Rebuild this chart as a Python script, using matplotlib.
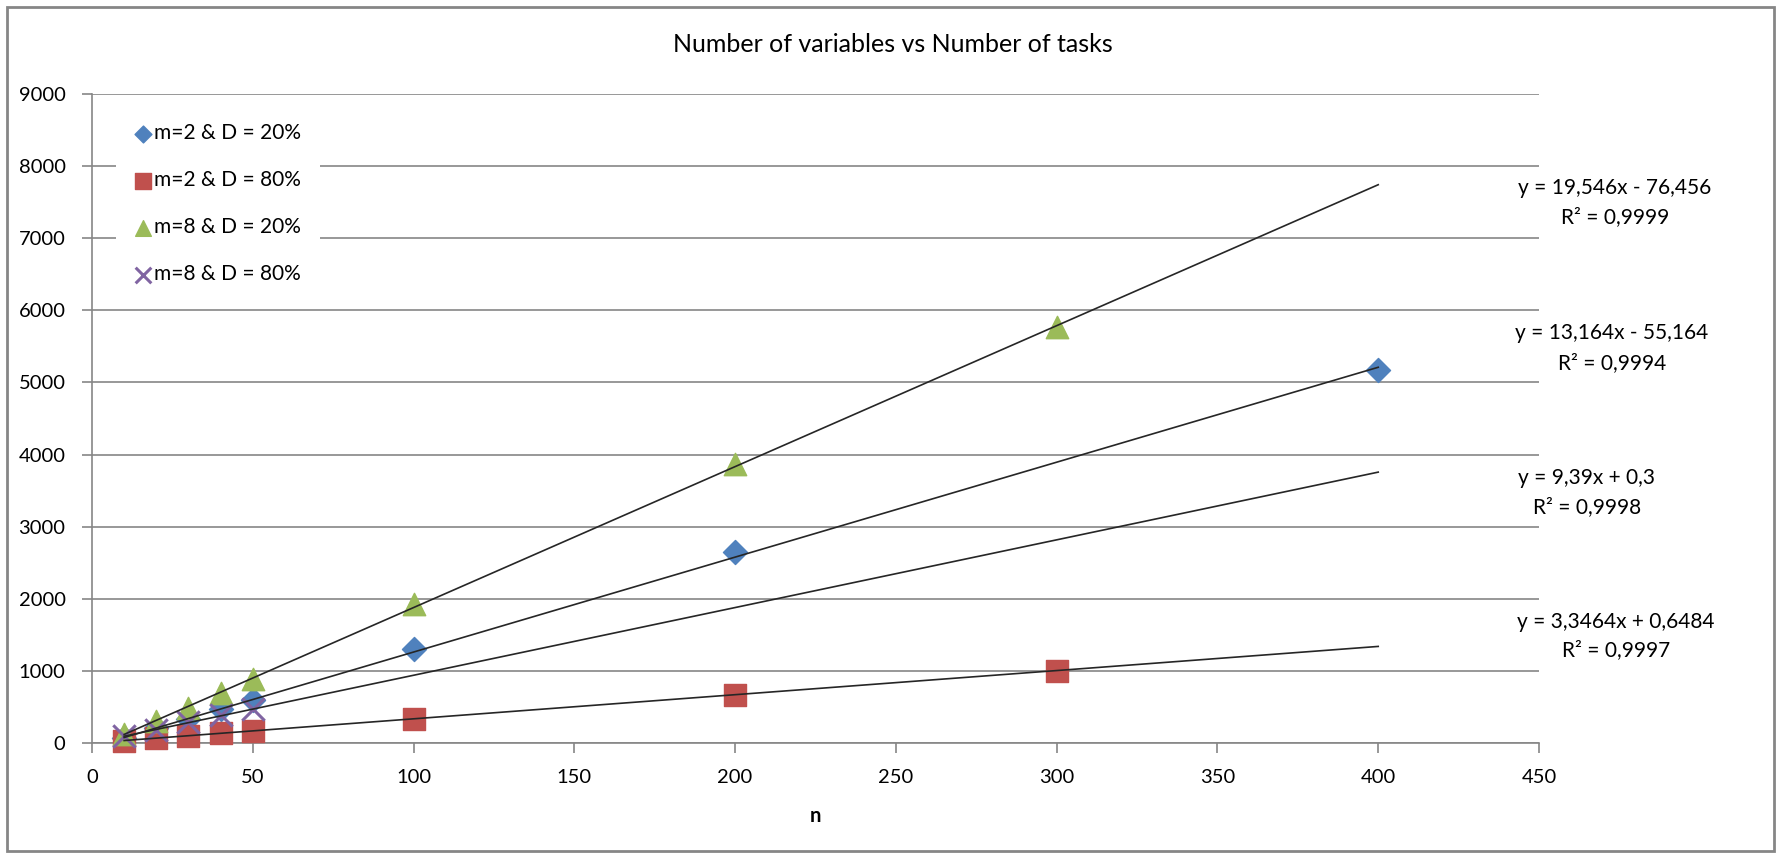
import matplotlib
matplotlib.use("Agg")
import matplotlib.pyplot as plt
import numpy as np
from matplotlib.patches import Rectangle

plt.rcParams['font.family'] = ['Lato', 'DejaVu Sans']

# data
n_blue = [10, 20, 30, 40, 50, 100, 200, 400]
v_blue = [76, 205, 335, 470, 600, 1310, 2655, 5170]
n_red = [10, 20, 30, 40, 50, 100, 200, 300]
v_red = [34, 68, 101, 135, 168, 335, 668, 1005]
n_green = [10, 20, 30, 40, 50, 100, 200, 300]
v_green = [118, 305, 485, 700, 890, 1925, 3875, 5775]
n_purple = [10, 20, 30, 40, 50]
v_purple = [95, 185, 290, 385, 475]

labels = ['m=2 & D = 20%', 'm=2 & D = 80%', 'm=8 & D = 20%', 'm=8 & D = 80%']

# trendlines (from the equations shown)
slopes = [19.546, 13.164, 9.39, 3.3464]
intercepts = [-76.456, -55.164, 0.3, 0.6484]
eq_texts = ['y = 19,546x - 76,456', 'y = 13,164x - 55,164',
            'y = 9,39x + 0,3', 'y = 3,3464x + 0,6484']
r2_texts = ['R² = 0,9999', 'R² = 0,9994', 'R² = 0,9998', 'R² = 0,9997']
trend_x = [10, 400]

W, H = 1781, 857
fig = plt.figure(figsize=(W / 100, H / 100), dpi=100)
ax = fig.add_axes([92 / W, 1 - 743 / H, (1539 - 92) / W, (743 - 94) / H])

grey = '#868686'
ax.scatter(n_blue, v_blue, marker='D', s=150, color='#4F81BD', label=labels[0], zorder=3, clip_on=False)
ax.scatter(n_red, v_red, marker='s', s=260, color='#C0504D', label=labels[1], zorder=3, clip_on=False)
ax.scatter(n_green, v_green, marker='^', s=260, color='#9BBB59', label=labels[2], zorder=3, clip_on=False)
ax.scatter(n_purple, v_purple, marker='x', s=260, color='#8064A2', linewidths=2.2, label=labels[3], zorder=3, clip_on=False)

for a, b in zip(slopes, intercepts):
    tx = np.array(trend_x)
    ax.plot(tx, a * tx + b, color='#262626', lw=1.2, zorder=4)

ax.set_xlim(0, 450)
ax.set_ylim(0, 9000)
ax.set_xticks(range(0, 451, 50))
ax.set_yticks(range(0, 9001, 1000))
ax.yaxis.grid(True, color=grey, lw=1.2)
ax.set_axisbelow(True)
for s in ['top', 'right']:
    ax.spines[s].set_visible(False)
for s in ['left', 'bottom']:
    ax.spines[s].set_color(grey)
    ax.spines[s].set_linewidth(1.2)
ax.tick_params(axis='both', colors=grey, length=7, width=1.2, labelsize=14.5, labelcolor='#000000')
ax.tick_params(axis='y', pad=12)
ax.tick_params(axis='x', pad=12)

ax.set_xlabel('n', fontsize=14.5, fontweight='bold', labelpad=14)

leg = ax.legend(loc='upper left', bbox_to_anchor=(106 / W, 1 - 94 / H), bbox_transform=fig.transFigure,
                frameon=True, facecolor='white', edgecolor='none', framealpha=1, fancybox=False,
                fontsize=15, handlelength=0.75, handletextpad=0.15, labelspacing=1.3,
                borderpad=0.9, markerscale=0.7, scatterpoints=1)

fig.text(893 / W, 1 - 45 / H, 'Number of variables vs Number of tasks', ha='center', va='center', fontsize=18)

eq_pos = [(1615, 188, 217), (1612, 333, 363), (1587, 478, 507), (1616, 622, 650)]
for (cx, y1, y2), e, r in zip(eq_pos, eq_texts, r2_texts):
    fig.text(cx / W, 1 - y1 / H, e, ha='center', va='center', fontsize=15)
    fig.text(cx / W, 1 - y2 / H, r, ha='center', va='center', fontsize=15)

fig.patches.append(Rectangle((7 / W, 6 / H), (W - 14) / W, (H - 13) / H, transform=fig.transFigure,
                             fill=False, edgecolor=grey, lw=2))

fig.savefig('out.png', dpi=100)
